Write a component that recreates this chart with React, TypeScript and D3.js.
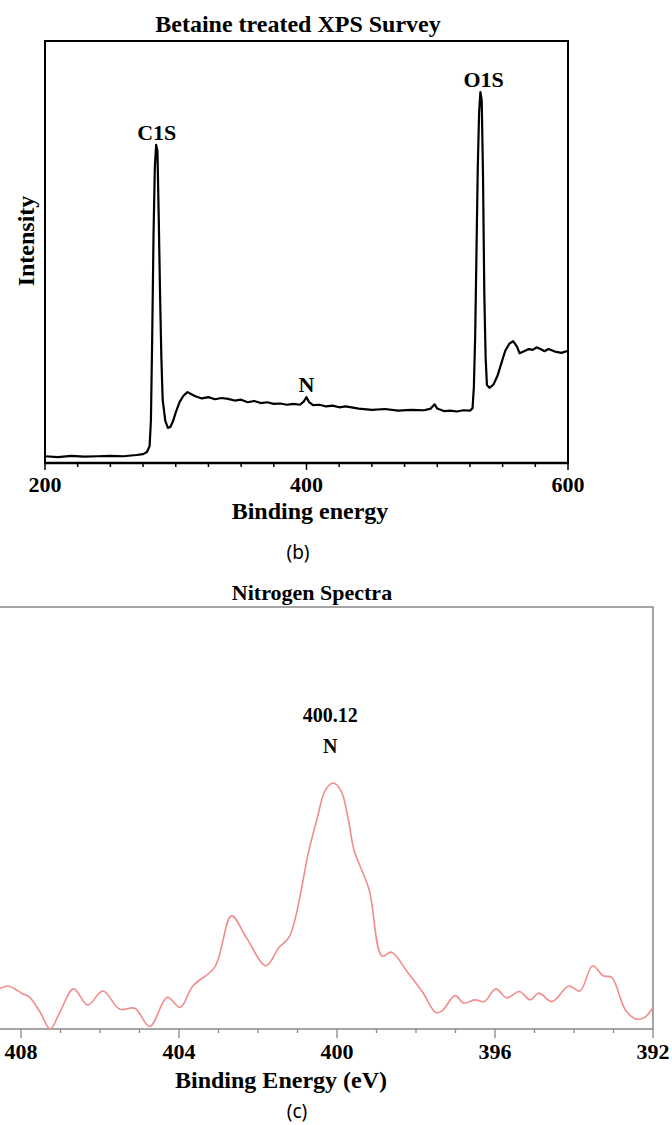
import React from 'react';
import * as d3 from 'd3';

// survey spectrum (b)
const surveyEnergy = [
  200, 210, 220, 230, 240, 250, 260, 270, 275, 278, 280, 281, 282, 283, 284, 285, 286, 287, 288, 289,
  290, 292, 294, 296, 298, 300, 303, 306, 309, 312, 315, 320, 325, 330, 335, 340, 345, 350, 355, 360,
  365, 370, 375, 380, 385, 390, 395, 398, 400, 402, 405, 410, 415, 420, 425, 430, 440, 450, 460, 470,
  480, 490, 495, 498, 500, 505, 510, 515, 520, 525, 527, 528, 529, 530, 531, 532, 533, 534, 535, 536,
  537, 538, 540, 543, 546, 549, 552, 555, 558, 561, 563, 566, 570, 573, 576, 579, 582, 585, 590, 595, 600,
];
const surveyIntensity = [
  1.6, 1.4, 1.7, 1.5, 1.6, 1.7, 1.6, 1.9, 2.1, 2.6, 4, 10, 30, 54, 70, 75.4, 74, 58, 40, 25,
  15, 10, 8.3, 8.6, 10, 12, 14.5, 16, 16.8, 16.3, 15.8, 15.3, 15.6, 15.1, 15.4, 15.2, 14.8, 15.0, 14.4, 14.7,
  14.2, 14.4, 14.0, 14.1, 13.8, 14.0, 13.8, 14.6, 15.6, 14.4, 13.7, 13.8, 13.4, 13.6, 13.2, 13.4, 12.9, 12.6, 12.8, 12.4,
  12.6, 12.5, 12.9, 13.9, 12.9, 12.3, 12.4, 12.2, 12.5, 12.4, 13, 18, 30, 50, 70, 83, 87.9, 86, 68, 40,
  25, 18.5, 17.8, 18.6, 20.6, 23.6, 26.6, 28.2, 28.9, 27.6, 26, 26.4, 27, 26.8, 27.4, 27, 26.5, 27, 26.4, 26.1, 26.6,
];
const surveyTicks = [200, 400, 600];
const surveyPeakLabels = ['C1S', 'N', 'O1S'];
const surveyPeakEnergy = [285.5, 400, 535.5];
const surveyPeakHeight = [75.4, 15.6, 87.9];

// nitrogen spectrum (c)
const nEnergy = [
  408.54, 408.33, 407.95, 407.78, 407.51, 407.26, 407.02, 406.67, 406.31, 405.93, 405.5, 405.12, 404.74,
  404.3, 403.97, 403.65, 403.1, 402.67, 402.29, 401.8, 401.47, 401.2, 400.71, 400.5, 400.3, 400.1, 399.9,
  399.7, 399.57, 399.19, 398.86, 398.62, 398.21, 397.83, 397.5, 397.34, 397.01, 396.79, 396.52, 396.27,
  395.98, 395.7, 395.38, 395.11, 394.89, 394.56, 394.13, 393.85, 393.53, 393.26, 393.04, 392.71, 392.44,
  392.22, 392.0,
];
const nIntensity = [
  9.5, 10.2, 8.3, 7.5, 3.9, 0, 3.9, 9.5, 5.7, 9.0, 4.7, 4.9, 0.6,
  7.5, 5.1, 10.2, 14.6, 26.8, 21.6, 15.0, 19.3, 22.0, 42.4, 50, 56.5, 58.3, 56.5,
  49, 42.4, 33.1, 17.3, 18.2, 13.4, 8.7, 3.9, 4.3, 7.9, 6.1, 6.9, 6.5,
  9.5, 7.4, 8.9, 6.9, 8.5, 6.5, 10.2, 9.0, 15.0, 12.6, 12.2, 4.7, 2.4,
  2.7, 5.1,
];
const nTicks = [408, 404, 400, 396, 392];
const nPeakEnergy = 400.12;

const serif = '"Liberation Serif", "Times New Roman", serif';
const sans = '"Noto Sans", sans-serif';

export default function App() {
  // panel b
  const bx = d3.scaleLinear().domain([200, 600]).range([45, 568]);
  const by = d3.scaleLinear().domain([0, 100]).range([463, 41]);
  const bLine = d3
    .line<number>()
    .x((_, i) => bx(surveyEnergy[i]))
    .y((d) => by(d))(surveyIntensity);
  const bMinor = d3.range(200, 601, 25);

  // panel c
  const cx = d3.scaleLinear().domain([408, 392]).range([21, 653]);
  const cy = d3.scaleLinear().domain([0, 100]).range([1029, 607]);
  const cLine = d3
    .line<number>()
    .x((_, i) => cx(nEnergy[i]))
    .y((d) => cy(d))
    .curve(d3.curveCatmullRom)(nIntensity);
  const cMinor = d3.range(392, 409, 1);
  const peakTop = cy(d3.max(nIntensity) as number);

  return (
    <svg width={672} height={1125} style={{ position: 'absolute', left: 0, top: 0 }}>
      <rect width={672} height={1125} fill="#fff" />

      {/* ---- (b) survey ---- */}
      <text x={298} y={32} textAnchor="middle" fontFamily={serif} fontWeight="bold" fontSize={24}>
        Betaine treated XPS Survey
      </text>
      <rect x={45} y={41} width={523} height={422} fill="none" stroke="#000" strokeWidth={2} />
      <line x1={44} x2={569} y1={463} y2={463} stroke="#000" strokeWidth={2.6} />
      {bMinor.map((t) => (
        <line key={t} x1={bx(t)} x2={bx(t)} y1={463} y2={surveyTicks.includes(t) ? 470 : 467} stroke="#000" strokeWidth={1.5} />
      ))}
      {surveyTicks.map((t) => (
        <text key={t} x={bx(t)} y={492} textAnchor="middle" fontFamily={serif} fontWeight="bold" fontSize={22}>
          {t}
        </text>
      ))}
      <text x={310} y={519} textAnchor="middle" fontFamily={serif} fontWeight="bold" fontSize={24}>
        Binding energy
      </text>
      <text
        transform="translate(34,241) rotate(-90)"
        textAnchor="middle"
        fontFamily={serif}
        fontWeight="bold"
        fontSize={24}
      >
        Intensity
      </text>
      <path d={bLine ?? ''} fill="none" stroke="#000" strokeWidth={2.2} strokeLinejoin="round" />
      {surveyPeakLabels.map((l, i) => (
        <text
          key={l}
          x={bx(surveyPeakEnergy[i])}
          y={by(surveyPeakHeight[i]) - 5}
          textAnchor="middle"
          fontFamily={serif}
          fontWeight="bold"
          fontSize={22}
        >
          {l}
        </text>
      ))}
      <text x={298} y={559} textAnchor="middle" fontFamily={sans} fontSize={19}>
        (b)
      </text>

      {/* ---- (c) nitrogen ---- */}
      <text x={312} y={600} textAnchor="middle" fontFamily={serif} fontWeight="bold" fontSize={22}>
        Nitrogen Spectra
      </text>
      <defs>
        <clipPath id="cclip">
          <rect x={0} y={607} width={653} height={422} />
        </clipPath>
      </defs>
      <path d={`M0,607H653V1029H0`} fill="none" stroke="#888" strokeWidth={1.5} />
      {cMinor.map((t) => (
        <line key={t} x1={cx(t)} x2={cx(t)} y1={1029} y2={nTicks.includes(t) ? 1038 : 1033} stroke="#888" strokeWidth={1.3} />
      ))}
      {nTicks.map((t) => (
        <text key={t} x={cx(t)} y={1059} textAnchor="middle" fontFamily={serif} fontWeight="bold" fontSize={22}>
          {t}
        </text>
      ))}
      <text x={281} y={1088} textAnchor="middle" fontFamily={serif} fontWeight="bold" fontSize={24}>
        Binding Energy (eV)
      </text>
      <path d={cLine ?? ''} fill="none" stroke="#f28c8c" strokeWidth={1.6} clipPath="url(#cclip)" />
      <text x={cx(nPeakEnergy) - 2} y={peakTop - 61} textAnchor="middle" fontFamily={serif} fontWeight="bold" fontSize={20}>
        {nPeakEnergy.toFixed(2)}
      </text>
      <text x={cx(nPeakEnergy) - 2} y={peakTop - 30} textAnchor="middle" fontFamily={serif} fontWeight="bold" fontSize={20}>
        N
      </text>
      <text x={297} y={1118} textAnchor="middle" fontFamily={sans} fontSize={19}>
        (c)
      </text>
    </svg>
  );
}
